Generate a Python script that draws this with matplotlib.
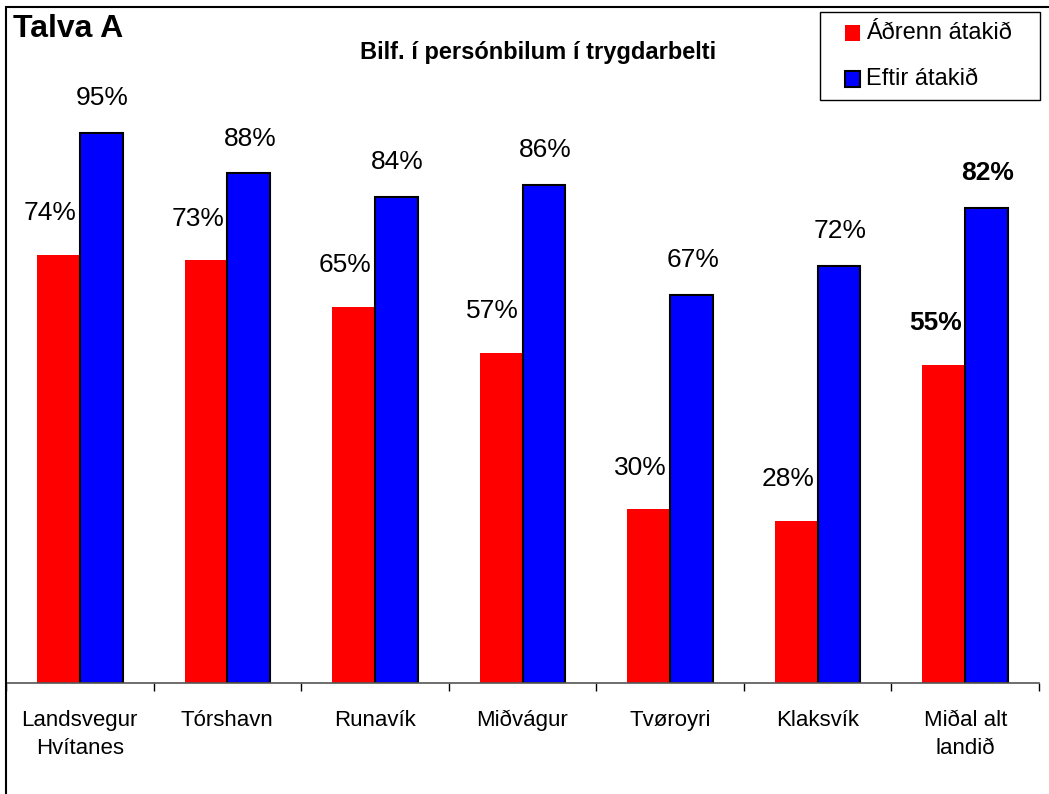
import numpy as np
import matplotlib.pyplot as plt
from matplotlib.patches import Rectangle

plt.rcParams['font.family'] = ['Liberation Sans', 'DejaVu Sans']

categories = ['Landsvegur\nHvítanes', 'Tórshavn', 'Runavík', 'Miðvágur',
              'Tvøroyri', 'Klaksvík', 'Miðal alt\nlandið']
before = [74, 73, 65, 57, 30, 28, 55]
after = [95, 88, 84, 86, 67, 72, 82]
series_names = ['Áðrenn átakið', 'Eftir átakið']
series_colors = ['#ff0000', '#0000ff']

W, H = 1049, 794
fig = plt.figure(figsize=(W / 100, H / 100), dpi=100)

# plot area: x from 6 to 1039 px, baseline at 683 px, 100% at 104 px
ax = fig.add_axes([6 / W, (H - 683) / H, 1033 / W, 579 / H])
ax.set_xlim(-0.5, len(categories) - 0.5)
ax.set_ylim(0, 100)

x = np.arange(len(categories))
bw = 0.29
ax.bar(x - bw / 2, before, bw, color=series_colors[0], edgecolor='none', zorder=2)
ax.bar(x + bw / 2, after, bw, color=series_colors[1], edgecolor='black',
       linewidth=1.5, zorder=2)

for i in range(len(categories)):
    bold = 'bold' if i == len(categories) - 1 else 'normal'
    ax.annotate(f'{before[i]}%', (x[i] - bw / 2, before[i]), xytext=(-6, 30),
                textcoords='offset points', ha='center', va='center',
                fontsize=19, fontweight=bold)
    ax.annotate(f'{after[i]}%', (x[i] + bw / 2, after[i]), xytext=(1, 25),
                textcoords='offset points', ha='center', va='center',
                fontsize=19, fontweight=bold)

for s in ['left', 'right', 'top']:
    ax.spines[s].set_visible(False)
ax.spines['bottom'].set_color('#555555')
ax.spines['bottom'].set_linewidth(1.2)
ax.set_yticks([])
ax.set_xticks(np.arange(len(categories) + 1) - 0.5)
ax.set_xticklabels([])
ax.tick_params(axis='x', length=6, width=1, color='black')
for i, c in enumerate(categories):
    ax.text(x[i], -4.6, c, ha='center', va='top', fontsize=16,
            linespacing=1.45)

fig.text(13 / W, 1 - 29 / H, 'Talva A', fontsize=23, fontweight='bold',
         ha='left', va='center')
fig.text(538 / W, 1 - 52 / H, 'Bilf. í persónbilum í trygdarbelti',
         fontsize=17, fontweight='bold', ha='center', va='center')

# legend box drawn by hand to match the boxed Excel legend
fig.patches.append(Rectangle((820 / W, 1 - 100 / H), 220 / W, 88 / H,
                             transform=fig.transFigure, facecolor='white',
                             edgecolor='black', linewidth=1))
for k, (name, col) in enumerate(zip(series_names, series_colors)):
    yc = 33 + 46 * k
    fig.patches.append(Rectangle((845 / W, 1 - (yc + 7.5) / H), 15 / W, 15 / H,
                                 transform=fig.transFigure, facecolor=col,
                                 edgecolor='black' if k == 1 else 'none',
                                 linewidth=1.5))
    fig.text(866 / W, 1 - yc / H, name, fontsize=17, ha='left', va='center')

# outer chart frame, cut off at right and bottom
fig.patches.append(Rectangle((6 / W, -0.1), 1.2, 1 - 7 / H + 0.1,
                             transform=fig.transFigure, fill=False,
                             edgecolor='black', linewidth=1.5))

fig.savefig('out.png', dpi=100)
